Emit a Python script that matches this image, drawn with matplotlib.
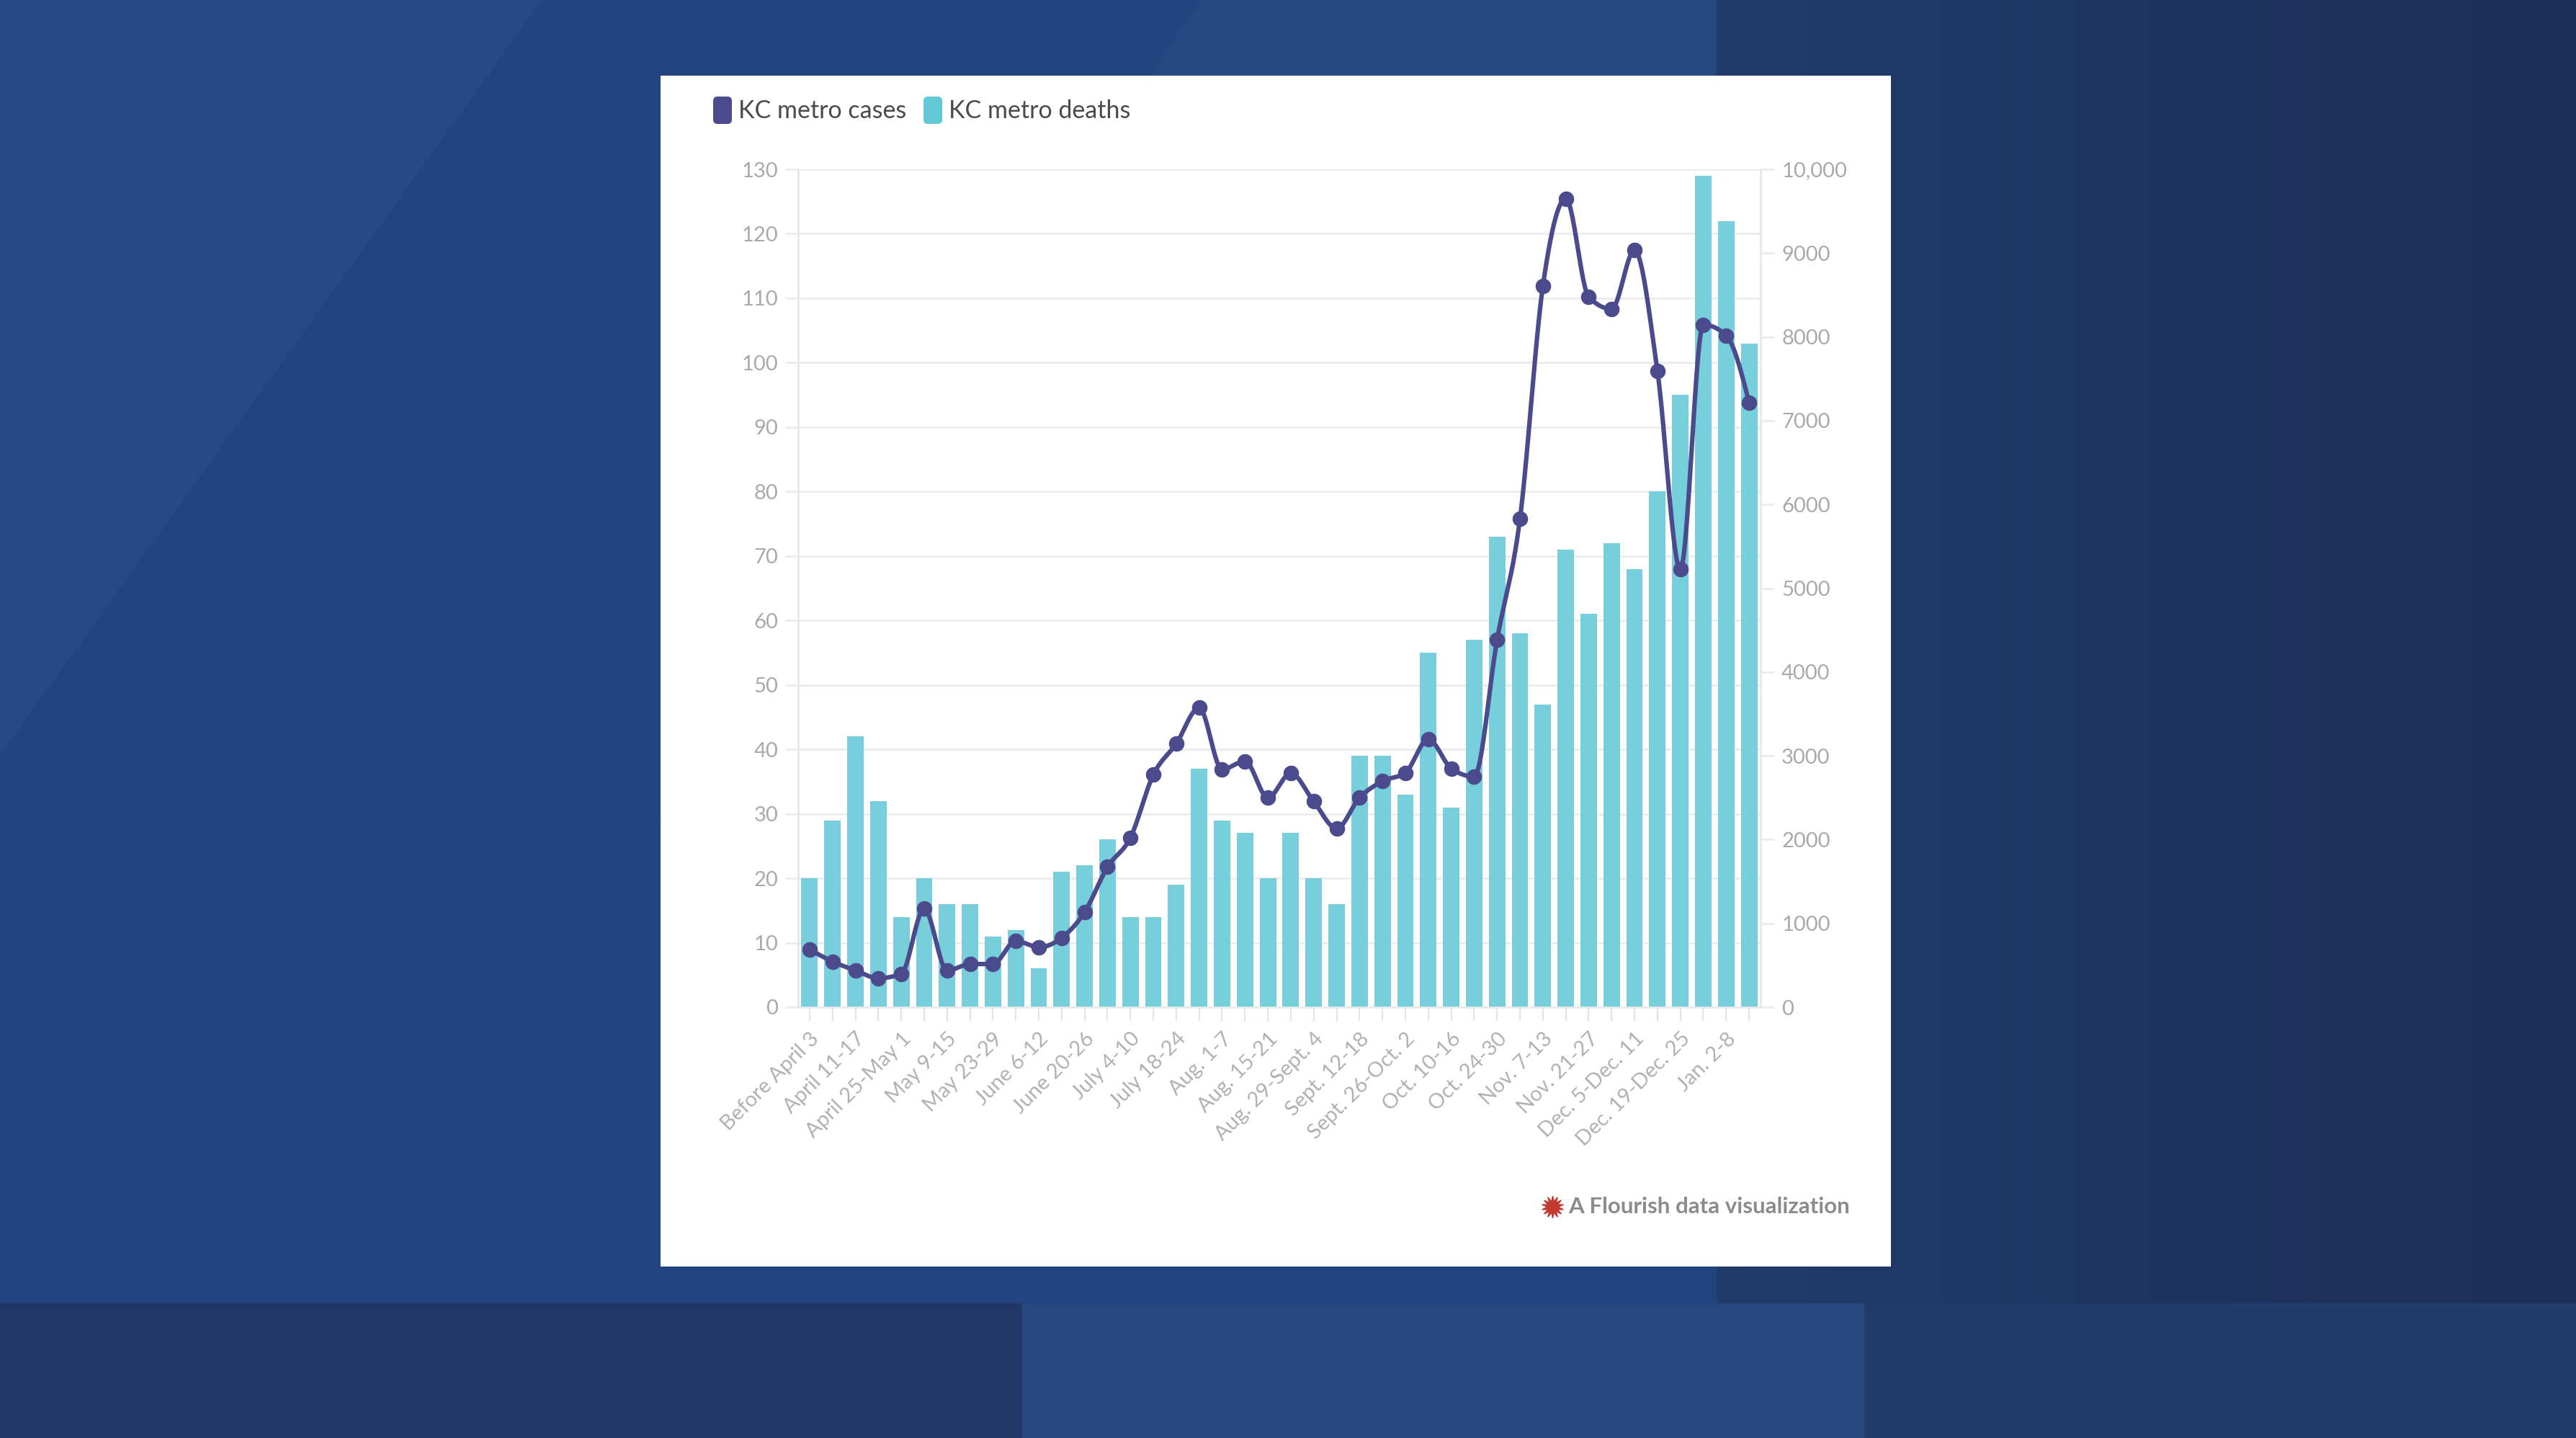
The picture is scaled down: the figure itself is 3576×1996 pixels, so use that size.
import numpy as np
import matplotlib
matplotlib.use("Agg")
import matplotlib.pyplot as plt
from matplotlib.patches import Polygon, Rectangle, FancyBboxPatch
from matplotlib.lines import Line2D
from matplotlib.transforms import IdentityTransform

plt.rcParams["font.family"] = ["Lato", "DejaVu Sans"]

# weekly KC metro numbers
deaths = [20, 29, 42, 32, 14, 20, 16, 16, 11, 12, 6, 21, 22, 26, 14, 14, 19, 37,
          29, 27, 20, 27, 20, 16, 39, 39, 33, 55, 31, 57, 73, 58, 47, 71, 61, 72,
          68, 80, 95, 129, 122, 103]
cases = [689, 545, 438, 346, 398, 1174, 438, 515, 515, 791, 714, 828, 1134, 1673,
         2023, 2774, 3144, 3573, 2838, 2936, 2501, 2792, 2455, 2133, 2501, 2697,
         2798, 3196, 2850, 2752, 4382, 5826, 8605, 9649, 8478, 8333, 9033, 7591,
         5225, 8145, 8018, 7217]
week_labels = ["Before April 3", "April 11-17", "April 25-May 1", "May 9-15",
               "May 23-29", "June 6-12", "June 20-26", "July 4-10", "July 18-24",
               "Aug. 1-7", "Aug. 15-21", "Aug. 29-Sept. 4", "Sept. 12-18",
               "Sept. 26-Oct. 2", "Oct. 10-16", "Oct. 24-30", "Nov. 7-13",
               "Nov. 21-27", "Dec. 5-Dec. 11", "Dec. 19-Dec. 25", "Jan. 2-8"]
left_ticks = list(range(0, 131, 10))
right_ticks = list(range(0, 10001, 1000))
right_labels = ["0", "1000", "2000", "3000", "4000", "5000", "6000", "7000",
                "8000", "9000", "10,000"]

BAR = "#76cfda"
LINE = "#4b4a8d"
GRID = "#ebebeb"
TICKTXT = "#a9a9a9"


def monotone_curve(y, n=24):
    # monotone cubic (like d3 curveMonotoneX) through the points
    y = np.asarray(y, float)
    s = np.diff(y)
    m = np.zeros_like(y)
    for i in range(1, len(y) - 1):
        s0, s1 = s[i - 1], s[i]
        p = (s0 + s1) / 2
        m[i] = (np.sign(s0) + np.sign(s1)) * min(abs(s0), abs(s1), 0.5 * abs(p))
    m[0] = (3 * s[0] - m[1]) / 2
    m[-1] = (3 * s[-1] - m[-2]) / 2
    t = np.linspace(0, 1, n, endpoint=False)
    h00 = 2 * t**3 - 3 * t**2 + 1
    h10 = t**3 - 2 * t**2 + t
    h01 = -2 * t**3 + 3 * t**2
    h11 = t**3 - t**2
    xs, ys = [], []
    for i in range(len(y) - 1):
        xs.append(i + t)
        ys.append(h00 * y[i] + h10 * m[i] + h01 * y[i + 1] + h11 * m[i + 1])
    xs.append([len(y) - 1])
    ys.append([y[-1]])
    return np.concatenate(xs), np.concatenate(ys)


fig = plt.figure(figsize=(35.76, 19.96), dpi=100)
fig.patch.set_facecolor("#22427b")


def fpoly(pts, color):
    # pts in the 1568x875 screen layout
    xy = [(x / 1568, 1 - y / 875) for x, y in pts]
    fig.add_artist(Polygon(xy, closed=True, transform=fig.transFigure,
                           facecolor=color, edgecolor="none", zorder=0))


# TV backdrop shapes
fpoly([(0, 0), (330, 0), (0, 460)], "#284a84")
fpoly([(330, 0), (1045, 0), (1045, 793), (0, 793), (0, 460)], "#23457f")
fpoly([(730, 0), (1045, 0), (1045, 500), (400, 500)], "#24487f")
# right panel fades darker toward the edge
n_strips = 60
right_cols = np.linspace([0x20, 0x3b, 0x6c], [0x1b, 0x2e, 0x57], n_strips)
edges = np.linspace(1045, 1568, n_strips + 1)
for i, c in enumerate(right_cols):
    fpoly([(edges[i], 0), (edges[i + 1] + 0.5, 0), (edges[i + 1] + 0.5, 793),
           (edges[i], 793)], "#%02x%02x%02x" % tuple(int(round(v)) for v in c))
fpoly([(0, 793), (622, 793), (622, 875), (0, 875)], "#203767")
fpoly([(622, 793), (1135, 793), (1135, 875), (622, 875)], "#26487e")
fpoly([(1135, 793), (1568, 793), (1568, 875), (1135, 875)], "#213b6b")

# white card
fig.add_artist(Rectangle((917 / 3576, 1 - 1758 / 1996), (2625 - 917) / 3576,
                         (1758 - 105) / 1996, transform=fig.transFigure,
                         facecolor="white", edgecolor="none", zorder=1))

ax = fig.add_axes([1108 / 3576, 1 - 1398 / 1996, (2444 - 1108) / 3576,
                   (1398 - 235) / 1996])
ax.set_zorder(2)
ax.patch.set_visible(False)
x = np.arange(len(deaths))
ax.bar(x, deaths, width=0.72, color=BAR, zorder=2)
ax.set_xlim(-0.5, len(deaths) - 0.5)
ax.set_ylim(0, 130)
ax.set_yticks(left_ticks)
ax.grid(axis="y", color=GRID, lw=2)
ax.set_axisbelow(True)
ax.set_xticks(np.arange(0, len(deaths), 2)[:len(week_labels)], week_labels,
              rotation=45, ha="right", va="top", rotation_mode="anchor")
ax.set_xticks(np.arange(1, len(deaths), 2), minor=True)
ax.tick_params(axis="x", which="both", length=14, width=1.5, color="#e3e3e3",
               labelcolor="#b0b0b0", labelsize=21, pad=8)
ax.tick_params(axis="y", length=13, width=2, color=GRID, labelcolor=TICKTXT,
               labelsize=21, pad=7)
for side in ["top", "right"]:
    ax.spines[side].set_visible(False)
for side in ["left", "bottom"]:
    ax.spines[side].set_color("#e8e8e8")
    ax.spines[side].set_linewidth(2)

ax2 = ax.twinx()
ax2.set_zorder(3)
cx, cy = monotone_curve(cases)
ax2.plot(cx, cy, color=LINE, lw=4.5, solid_capstyle="round",
         solid_joinstyle="round", zorder=3)
ax2.plot(x, cases, "o", color=LINE, markersize=14.5, zorder=4)
ax2.set_ylim(0, 10000)
ax2.set_yticks(right_ticks, right_labels)
ax2.tick_params(axis="y", length=14, width=2, color=GRID, labelcolor=TICKTXT,
                labelsize=21, pad=7)
for side in ["top", "left", "bottom"]:
    ax2.spines[side].set_visible(False)
ax2.spines["right"].set_color("#e8e8e8")
ax2.spines["right"].set_linewidth(2)

# legend (pixel coordinates, y measured from the top of the image)
H = 1996
idt = IdentityTransform()
for x0, col, label in [(990, LINE, "KC metro cases"), (1282, "#63c8d6", "KC metro deaths")]:
    fig.add_artist(FancyBboxPatch((x0, H - 172), 26, 38, transform=idt,
                                  boxstyle="round,pad=0,rounding_size=6",
                                  facecolor=col, edgecolor="none", zorder=5))
    fig.text(x0 + 35, H - 154, label, transform=idt, fontsize=24.5,
             color="#4a4a4a", va="center", ha="left", zorder=5)

# Flourish credit
fig.add_artist(Line2D([2155], [H - 1675], transform=idt, marker=(14, 1, 0),
                      markersize=22, color="#c23a30", linestyle="none", zorder=5))
fig.text(2177, H - 1675, "A Flourish data visualization", transform=idt,
         fontsize=22.5, fontweight="bold", color="#8b8b8b", va="center",
         ha="left", zorder=5)

fig.savefig("out.png", dpi=100, facecolor=fig.get_facecolor())
